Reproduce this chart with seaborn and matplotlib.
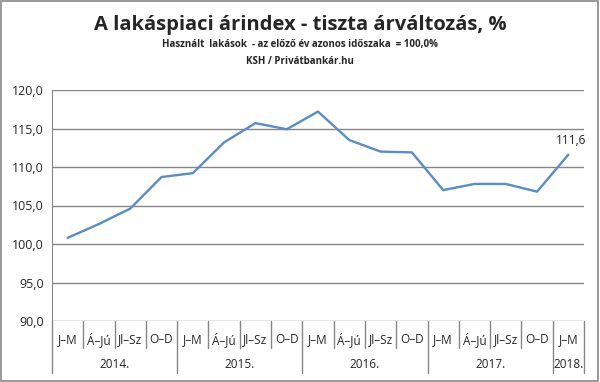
import matplotlib
matplotlib.use("Agg")
import matplotlib.pyplot as plt
import matplotlib.transforms as mtransforms
import seaborn as sns
import pandas as pd

# -----------------------------
# Data
# -----------------------------
quarters = ["J–M", "Á–Jú", "Jl–Sz", "O–D"] * 4 + ["J–M"]
years = ["2014.", "2015.", "2016.", "2017.", "2018."]
year_counts = [4, 4, 4, 4, 1]
values = [100.8, 102.6, 104.6, 108.7, 109.2, 113.2, 115.7, 114.9,
          117.2, 113.5, 112.0, 111.9, 107.0, 107.8, 107.8, 106.8, 111.6]
yticks = [90, 95, 100, 105, 110, 115, 120]

df = pd.DataFrame({"pos": range(len(values)), "value": values})

# -----------------------------
# Style
# -----------------------------
sns.set_style("white")
plt.rcParams["font.family"] = ["Open Sans", "DejaVu Sans"]

LINE = "#5A8CC8"
GRID = "#868686"

fig = plt.figure(figsize=(6.0, 3.82), dpi=100)
ax = fig.add_axes([52 / 600, 61 / 382, 532 / 600, 231 / 382])

sns.lineplot(data=df, x="pos", y="value", ax=ax, color=LINE, lw=1.7)

ax.set_xlim(-0.5, len(values) - 0.5)
ax.set_ylim(90, 120)
ax.set_yticks(yticks)
ax.set_yticklabels([f"{v:.1f}".replace(".", ",") for v in yticks], fontsize=9)
ax.tick_params(axis="y", length=4, color=GRID, pad=2)
ax.grid(axis="y", color=GRID, lw=1)
ax.set_xticks([])
ax.set_xlabel("")
ax.set_ylabel("")
for side in ["top", "right", "bottom"]:
    ax.spines[side].set_visible(False)
ax.spines["left"].set_color(GRID)

# category axis: quarters + years
trans = mtransforms.blended_transform_factory(ax.transData, ax.transAxes)
for i, q in enumerate(quarters):
    ax.text(i, -0.08, q, transform=trans, ha="center", va="center", fontsize=8.5)

bounds = [-0.5]
for c in year_counts:
    bounds.append(bounds[-1] + c)
for b in range(len(values) + 1):
    pos = b - 0.5
    depth = -0.225 if pos in bounds else -0.115
    ax.plot([pos, pos], [0, depth], transform=trans, color=GRID, lw=1, clip_on=False)
for y, start, c in zip(years, bounds[:-1], year_counts):
    ax.text(start + c / 2, -0.19, y, transform=trans, ha="center", va="center",
            fontsize=8.5)

# data label on last point
ax.annotate(f"{values[-1]:.1f}".replace(".", ","), (len(values) - 1, values[-1]),
            xytext=(2, 8), textcoords="offset points", ha="center", fontsize=8.5)

# titles
fig.text(300, 382 - 25, "A lakáspiaci árindex - tiszta árváltozás, %",
         transform=None, ha="center", va="center", fontsize=14.5, fontweight="bold")
fig.text(300, 382 - 45, "Használt  lakások  - az előző év azonos időszaka  = 100,0%",
         transform=None, ha="center", va="center", fontsize=7, fontweight="bold")
fig.text(300, 382 - 61, "KSH / Privátbankár.hu", transform=None,
         ha="center", va="center", fontsize=7, fontweight="bold")

# outer border
fig.patches.append(plt.Rectangle((0.002, 0.003), 0.995, 0.994, transform=fig.transFigure,
                                 fill=False, edgecolor="#888888", lw=1.2))

fig.savefig("out.png", dpi=100)
